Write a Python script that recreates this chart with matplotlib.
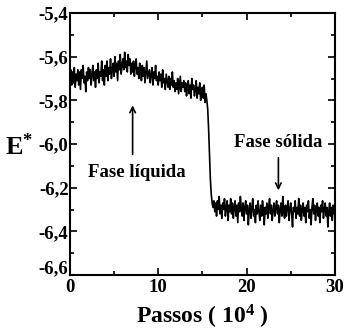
import numpy as np
import matplotlib
matplotlib.use("Agg")
import matplotlib.pyplot as plt
from matplotlib.ticker import MultipleLocator, FuncFormatter

plt.rcParams['font.family'] = ['Liberation Serif', 'DejaVu Serif']
plt.rcParams['font.weight'] = 'bold'
plt.rcParams['mathtext.fontset'] = 'custom'
plt.rcParams['mathtext.rm'] = 'Liberation Serif:bold'
plt.rcParams['mathtext.it'] = 'Liberation Serif:bold'
plt.rcParams['mathtext.bf'] = 'Liberation Serif:bold'

# passo de amostragem (unidades de 10^4 passos)
x_step = 0.1

# fase liquida, x = 0.0 ... 15.5
E_liquido = [
    -5.70, -5.66, -5.73, -5.67, -5.72, -5.65, -5.74, -5.68, -5.71, -5.66,
    -5.73, -5.67, -5.75, -5.66, -5.70, -5.64, -5.72, -5.69, -5.76, -5.67,
    -5.71, -5.65, -5.70, -5.66, -5.73, -5.68, -5.64, -5.71, -5.67, -5.74,
    -5.66, -5.70, -5.63, -5.72, -5.67, -5.69, -5.62, -5.71, -5.66, -5.73,
    -5.64, -5.69, -5.62, -5.71, -5.65, -5.68, -5.61, -5.70, -5.66, -5.63,
    -5.69, -5.60, -5.67, -5.63, -5.71, -5.62, -5.66, -5.59, -5.68, -5.64,
    -5.61, -5.66, -5.58, -5.65, -5.62, -5.67, -5.59, -5.64, -5.61, -5.68,
    -5.63, -5.67, -5.62, -5.69, -5.64, -5.61, -5.68, -5.65, -5.70, -5.63,
    -5.66, -5.71, -5.64, -5.69, -5.65, -5.72, -5.67, -5.62, -5.70, -5.68,
    -5.66, -5.72, -5.68, -5.65, -5.73, -5.67, -5.70, -5.64, -5.71, -5.69,
    -5.73, -5.67, -5.71, -5.68, -5.74, -5.66, -5.72, -5.70, -5.75, -5.68,
    -5.71, -5.74, -5.69, -5.75, -5.70, -5.73, -5.67, -5.74, -5.71, -5.76,
    -5.72, -5.75, -5.70, -5.77, -5.73, -5.69, -5.76, -5.72, -5.74, -5.71,
    -5.76, -5.72, -5.78, -5.74, -5.71, -5.77, -5.73, -5.79, -5.70, -5.75,
    -5.73, -5.78, -5.75, -5.71, -5.79, -5.74, -5.77, -5.72, -5.80, -5.76,
    -5.74, -5.79, -5.73, -5.81, -5.77, -5.80,
]

# transicao, x = 15.6 ... 16.3
E_transicao = [-5.84, -5.93, -6.05, -6.16, -6.23, -6.27, -6.29, -6.26]

# fase solida, x = 16.4 ... 30.0
E_solido = [
    -6.31, -6.27, -6.33, -6.26, -6.30, -6.24, -6.32, -6.28, -6.34, -6.27,
    -6.30, -6.25, -6.33, -6.29, -6.26, -6.35, -6.28, -6.31, -6.25, -6.32,
    -6.27, -6.34, -6.29, -6.26, -6.33, -6.28, -6.36, -6.27, -6.31, -6.24,
    -6.30, -6.33, -6.27, -6.35, -6.29, -6.26, -6.32, -6.28, -6.37, -6.30,
    -6.27, -6.34, -6.29, -6.25, -6.33, -6.30, -6.36, -6.28, -6.32, -6.26,
    -6.31, -6.35, -6.28, -6.33, -6.26, -6.30, -6.37, -6.29, -6.32, -6.27,
    -6.34, -6.29, -6.25, -6.32, -6.28, -6.35, -6.30, -6.27, -6.33, -6.29,
    -6.26, -6.32, -6.28, -6.36, -6.30, -6.27, -6.33, -6.24, -6.31, -6.34,
    -6.28, -6.33, -6.29, -6.26, -6.35, -6.30, -6.27, -6.32, -6.38, -6.29,
    -6.31, -6.26, -6.34, -6.29, -6.32, -6.25, -6.33, -6.28, -6.35, -6.30,
    -6.27, -6.33, -6.29, -6.36, -6.28, -6.31, -6.26, -6.34, -6.30, -6.37,
    -6.29, -6.25, -6.32, -6.28, -6.35, -6.30, -6.27, -6.33, -6.29, -6.36,
    -6.28, -6.31, -6.26, -6.34, -6.30, -6.27, -6.33, -6.29, -6.38, -6.31,
    -6.27, -6.33, -6.29, -6.35, -6.28, -6.32, -6.30,
]

E = np.array(E_liquido + E_transicao + E_solido)
passos = np.arange(len(E)) * x_step

Y_MIN, Y_MAX = -6.6, -5.4


def virgula(v, p):
    # o rotulo do minimo e desenhado a parte, um pouco acima
    if abs(v - Y_MIN) < 1e-6:
        return ''
    return f"{v:.1f}".replace('.', ',')


fig = plt.figure(figsize=(3.46, 3.33), dpi=100)
ax = fig.add_axes([0.202, 0.174, 0.766, 0.787])

ax.plot(passos, E, color='black', lw=1.2)

ax.set_xlim(0, 30)
ax.set_ylim(Y_MIN, Y_MAX)
ax.xaxis.set_major_locator(MultipleLocator(10))
ax.xaxis.set_minor_locator(MultipleLocator(5))
ax.yaxis.set_major_locator(MultipleLocator(0.2))
ax.yaxis.set_minor_locator(MultipleLocator(0.1))
ax.yaxis.set_major_formatter(FuncFormatter(virgula))

ax.tick_params(which='both', direction='in', top=True, right=True, width=1.2)
ax.tick_params(which='major', length=5, labelsize=13.5)
ax.tick_params(which='minor', length=3)
ax.tick_params(axis='x', which='major', pad=3)
ax.tick_params(axis='y', which='major', pad=1)
for s in ax.spines.values():
    s.set_linewidth(1.5)
for lbl in ax.get_xticklabels() + ax.get_yticklabels():
    lbl.set_fontweight('bold')

ax.annotate(f"{Y_MIN:.1f}".replace('.', ','), xy=(0, 0), xycoords='axes fraction',
            xytext=(-1.5, -1.5), textcoords='offset points',
            ha='right', va='bottom', fontsize=13.5, fontweight='bold')

ax.set_xlabel(r'Passos ( 10$^{4}$ )', fontsize=17, fontweight='bold', labelpad=5)
ax.set_ylabel(r'E$^{*}$', fontsize=19, fontweight='bold', rotation=0,
              ha='center', va='center')
ax.yaxis.set_label_coords(-0.19, 0.49)

# anotacoes das fases
ax.annotate('', xy=(7.1, -5.81), xytext=(7.1, -6.06),
            arrowprops=dict(arrowstyle='->', color='black', lw=1.2))
ax.text(7.6, -6.13, 'Fase líquida', fontsize=13.5, fontweight='bold',
        ha='center', va='center')

ax.text(23.6, -5.995, 'Fase sólida', fontsize=13.5, fontweight='bold',
        ha='center', va='center')
ax.annotate('', xy=(23.6, -6.225), xytext=(23.6, -6.05),
            arrowprops=dict(arrowstyle='->', color='black', lw=1.2))

fig.savefig('out.png', dpi=100)
